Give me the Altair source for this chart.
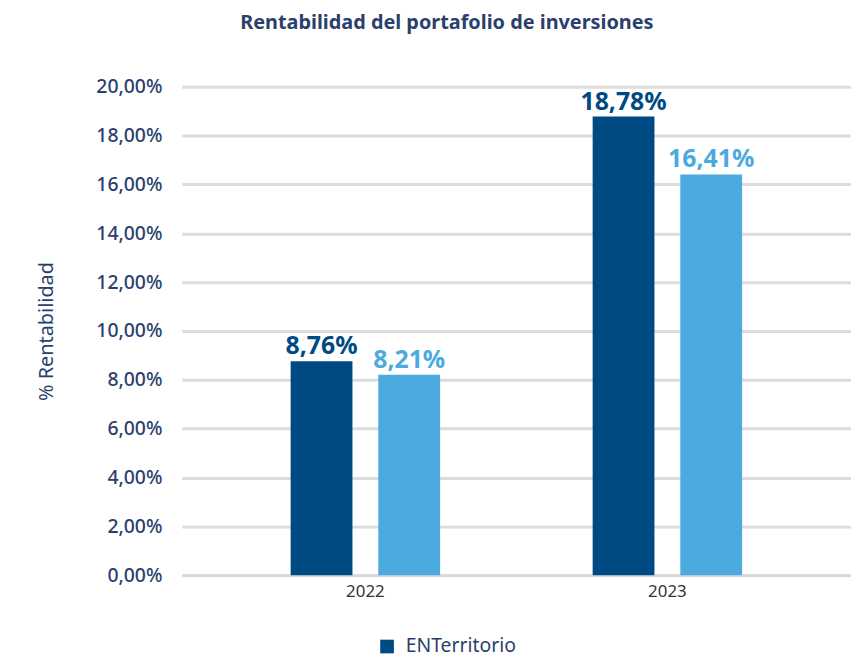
import altair as alt
import pandas as pd

years = ["2022", "2022", "2023", "2023"]
series = ["ENTerritorio", "Referencia", "ENTerritorio", "Referencia"]
values = [8.76, 8.21, 18.78, 16.41]
y_ticks = [0, 2, 4, 6, 8, 10, 12, 14, 16, 18, 20]

df = pd.DataFrame({"year": years, "serie": series, "value": values})

DARK = "#004A84"
LIGHT = "#4BAAE0"
NAVY = "#2B3F6E"
FONT = "Noto Sans"

color = alt.Color(
    "serie:N",
    scale=alt.Scale(domain=["ENTerritorio", "Referencia"], range=[DARK, LIGHT]),
    legend=alt.Legend(
        values=["ENTerritorio"], title=None, orient="none", legendX=197, legendY=554,
        symbolType="square", symbolSize=190, symbolStrokeWidth=0, labelFontSize=19.5,
        labelColor=NAVY, labelFont=FONT, symbolOpacity=1, labelOffset=9,
    ),
)

x = alt.X(
    "year:N",
    title=None,
    scale=alt.Scale(paddingInner=0, paddingOuter=0.108),
    axis=alt.Axis(labelAngle=0, labelFontSize=17, labelColor="#333333", labelFont=FONT,
                  ticks=False, domain=True, domainColor="#d9d9d9", domainWidth=2.5,
                  labelPadding=8),
)
xoff = alt.XOffset("serie:N", scale=alt.Scale(paddingInner=0.295, paddingOuter=0.87))
y = alt.Y(
    "value:Q",
    title="% Rentabilidad",
    scale=alt.Scale(domain=[0, 20], nice=False),
    axis=alt.Axis(values=y_ticks, labelExpr="replace(format(datum.value, '.2f'), '.', ',') + '%'",
                  labelFontSize=19.5, labelFontWeight=500, labelColor=NAVY, labelFont=FONT,
                  ticks=False, domain=False,
                  labelPadding=20, titleFontSize=20, titleFontWeight="normal", titleColor=NAVY,
                  titleFont=FONT, titlePadding=40, gridColor="#dcdcdc", gridWidth=3),
)

base = alt.Chart(df)

bars = base.mark_bar().encode(x=x, xOffset=xoff, y=y, color=color)

labels = base.transform_calculate(
    lbl="replace(format(datum.value, '.2f'), '.', ',') + '%'"
).mark_text(dy=-15, fontSize=25, fontWeight="bold", font=FONT).encode(
    x=x, xOffset=xoff, y=y, text="lbl:N",
    color=alt.Color("serie:N", scale=alt.Scale(domain=["ENTerritorio", "Referencia"], range=[DARK, LIGHT]), legend=None),
)

chart = alt.layer(bars, labels).properties(
    width=674, height=492,
    autosize=alt.AutoSizeParams(type="none"),
    padding={"left": 175, "top": 77, "right": 0, "bottom": 80},
    title=alt.TitleParams("Rentabilidad del portafolio de inversiones", fontSize=20,
                          fontWeight="bold", color=NAVY, font=FONT, anchor="middle",
                          dx=-70, offset=44),
).configure_view(stroke=None)

chart.save("out.html", embed_options={"renderer": "svg", "actions": False})
